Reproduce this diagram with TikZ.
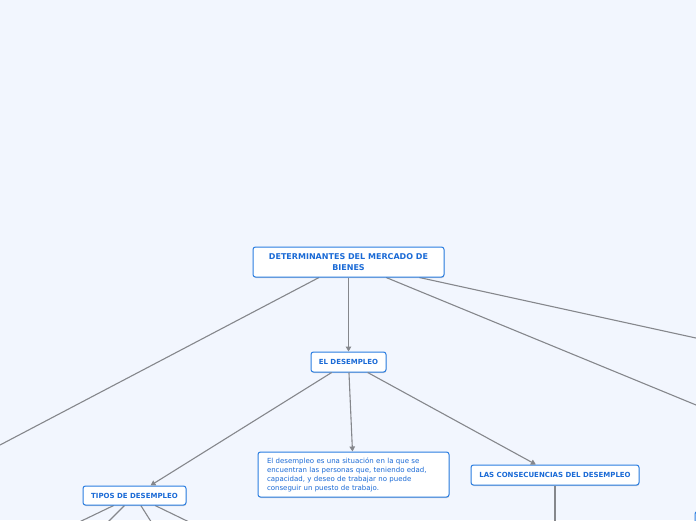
\documentclass[tikz,border=0pt]{standalone}
\usepackage{fontspec}
\setmainfont{DejaVu Sans}
\usetikzlibrary{arrows.meta,shadows,backgrounds}
\definecolor{bgc}{HTML}{F2F6FE}
\definecolor{boxline}{HTML}{2A7DE1}
\definecolor{txt}{HTML}{1A6AD6}
\definecolor{edgec}{HTML}{85878C}
\tikzset{
  mbox/.style={draw=boxline, line width=1pt, fill=white, rounded corners=2.5pt,
    text=txt, font=\fontsize{7}{10.5}\selectfont\bfseries, align=center,
    drop shadow={shadow xshift=0.4pt, shadow yshift=-1pt, opacity=0.35, fill=gray},
    inner sep=0pt},
  tbox/.style={mbox, font=\fontsize{7}{9}\selectfont, align=left},
  link/.style={draw=edgec, line width=1.1pt},
  arr/.style={link, -{Triangle[length=5pt,width=5.5pt]}},
}
\begin{document}
\begin{tikzpicture}[x=1pt,y=-1pt]
\useasboundingbox (0,0) rectangle (696,520);
\clip (0,0) rectangle (696,520);
% nodes
\node[mbox, minimum width=191pt, minimum height=30pt, font=\fontsize{8}{10.5}\selectfont\bfseries] (det) at (348.5,262) {DETERMINANTES DEL MERCADO DE\\BIENES};
\node[mbox, minimum width=75pt, minimum height=20pt] (eld) at (348.5,362) {EL DESEMPLEO};
\node[tbox, minimum width=191pt, minimum height=45pt, text width=173pt] (def) at (353.5,474.5) {El desempleo es una situación en la que se\\encuentran las personas que, teniendo edad,\\capacidad, y deseo de trabajar no puede\\conseguir un puesto de trabajo.};
\node[mbox, minimum width=168pt, minimum height=20pt] (cons) at (555,475) {LAS CONSECUENCIAS DEL DESEMPLEO};
\node[mbox, minimum width=103pt, minimum height=19pt] (tip) at (134.5,495.5) {TIPOS DE DESEMPLEO};
\node[mbox, minimum width=100pt, minimum height=20pt, anchor=north west] (edgebox) at (694.5,511) {};
% coordinates for free ends
\coordinate (l1) at (-20,455.5);
\coordinate (r1) at (716,413.2);
\coordinate (r2) at (716,342.4);
\coordinate (cd) at (555,560);
\coordinate (t1) at (0,560);
\coordinate (t2) at (70,560);
\coordinate (t3) at (175.3,560);
\coordinate (t4) at (267.5,560);
\begin{scope}[on background layer]
\fill[bgc] (0,0) rectangle (696,520);
\draw[link] (det) -- (l1);
\draw[link] (det) -- (r1);
\draw[link] (det) -- (r2);
\draw[link] (cons) -- (cd);
\draw[link] (tip) -- (t1);
\draw[link] (tip) -- (t2);
\draw[link] (tip) -- (t3);
\draw[link] (tip) -- (t4);
\end{scope}
% arrows
\draw[arr] (det) -- (eld);
\draw[arr] (eld) -- (tip);
\draw[arr] (eld) -- (def);
\draw[arr] (eld) -- (cons);
\end{tikzpicture}
\end{document}
